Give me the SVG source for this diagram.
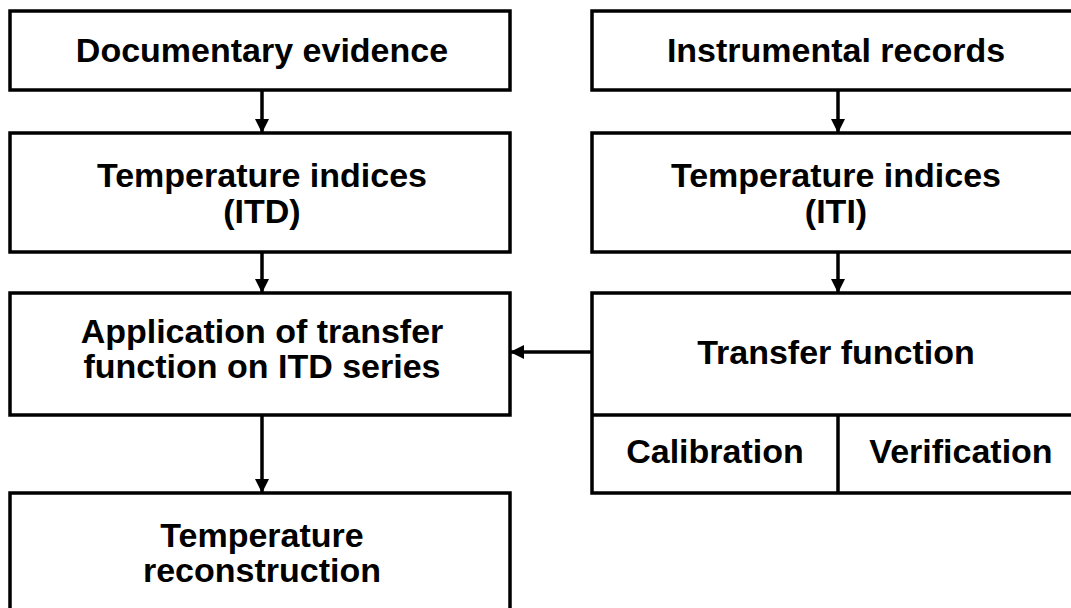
<svg xmlns="http://www.w3.org/2000/svg" width="1071" height="608" viewBox="0 0 1071 608">
<defs>
<style>
.box{fill:#fff;stroke:#000;stroke-width:3.5}
.t{font-family:"Liberation Sans",Arial,sans-serif;font-weight:bold;font-size:34px;fill:#000;text-anchor:middle}
.c{stroke:#000;stroke-width:3.5;fill:none}
</style>
<marker id="ah" viewBox="0 0 14 14" refX="14" refY="7" markerWidth="14" markerHeight="14" markerUnits="userSpaceOnUse" orient="auto">
<path d="M0,0 L14,7 L0,14 Z" fill="#000"/>
</marker>
</defs>
<rect width="1071" height="608" fill="#fff"/>
<g id="documentary">
<rect class="box" x="10" y="11" width="500" height="79"/>
<text class="t" x="262" y="62">Documentary evidence</text>
</g>
<g id="itd">
<rect class="box" x="10" y="133" width="500" height="119"/>
<text class="t" x="262" y="187">Temperature indices</text>
<text class="t" x="262" y="223">(ITD)</text>
</g>
<g id="application">
<rect class="box" x="10" y="293" width="500" height="122"/>
<text class="t" x="262" y="343">Application of transfer</text>
<text class="t" x="262" y="378">function on ITD series</text>
</g>
<g id="reconstruction">
<rect class="box" x="10" y="493" width="500" height="130"/>
<text class="t" x="262" y="547">Temperature</text>
<text class="t" x="262" y="582">reconstruction</text>
</g>
<g id="instrumental">
<rect class="box" x="592" y="11" width="492" height="79"/>
<text class="t" x="836" y="62">Instrumental records</text>
</g>
<g id="iti">
<rect class="box" x="592" y="133" width="492" height="119"/>
<text class="t" x="836" y="187">Temperature indices</text>
<text class="t" x="836" y="223">(ITI)</text>
</g>
<g id="transfer">
<rect class="box" x="592" y="293" width="492" height="200"/>
<line class="c" x1="592" y1="415" x2="1084" y2="415"/>
<line class="c" x1="838" y1="415" x2="838" y2="493"/>
<text class="t" x="836" y="364">Transfer function</text>
<text class="t" x="715" y="463">Calibration</text>
<text class="t" x="961" y="463">Verification</text>
</g>
<g id="connectors">
<line class="c" x1="262" y1="90" x2="262" y2="133" marker-end="url(#ah)"/>
<line class="c" x1="262" y1="252" x2="262" y2="293" marker-end="url(#ah)"/>
<line class="c" x1="262" y1="415" x2="262" y2="493" marker-end="url(#ah)"/>
<line class="c" x1="838" y1="90" x2="838" y2="133" marker-end="url(#ah)"/>
<line class="c" x1="838" y1="252" x2="838" y2="293" marker-end="url(#ah)"/>
<line class="c" x1="592" y1="352" x2="510" y2="352" marker-end="url(#ah)"/>
</g>
</svg>
